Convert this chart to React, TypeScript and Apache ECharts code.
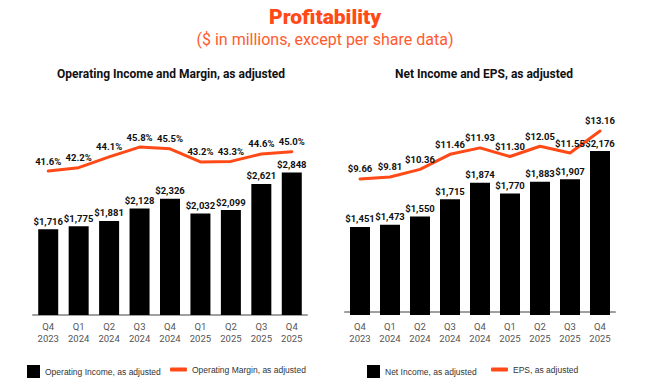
import React, { useEffect, useRef } from "react";
import * as echarts from "echarts";

const categories = ["Q4\n2023", "Q1\n2024", "Q2\n2024", "Q3\n2024", "Q4\n2024", "Q1\n2025", "Q2\n2025", "Q3\n2025", "Q4\n2025"];
const operatingIncome = [1716, 1775, 1881, 2128, 2326, 2032, 2099, 2621, 2848];
const operatingMargin = [41.6, 42.2, 44.1, 45.8, 45.5, 43.2, 43.3, 44.6, 45.0];
const netIncome = [1451, 1473, 1550, 1715, 1874, 1770, 1883, 1907, 2176];
const eps = [9.66, 9.81, 10.36, 11.46, 11.93, 11.3, 12.05, 11.55, 13.16];

const ORANGE = "#ff4a17";
const FONT = "Roboto, 'Noto Sans', sans-serif";

export default function App() {
  const ref = useRef<HTMLDivElement>(null);
  useEffect(() => {
    if (!ref.current) return;
    const chart = echarts.init(ref.current, undefined, { renderer: "svg" });
    const fmtMoney = (v: number) => "$" + v.toLocaleString("en-US");
    const barLabel = {
      show: true,
      position: "top",
      distance: 3,
      fontFamily: FONT,
      fontWeight: "bold",
      fontSize: 9.5,
      color: "#111",
    };
    const lineLabel = {
      show: true,
      position: "top",
      distance: 5,
      fontFamily: FONT,
      fontWeight: "bold",
      fontSize: 9.5,
      color: "#111",
    };
    const xAxisBase = {
      type: "category",
      data: categories,
      axisTick: { show: false },
      axisLine: { lineStyle: { color: "#a0a0a0", width: 2 } },
      axisLabel: { color: "#555", fontSize: 9.5, fontFamily: FONT, lineHeight: 12, margin: 5, interval: 0 },
    };
    const hiddenY = { type: "value", show: false, splitLine: { show: false } };
    const legendText = { fontFamily: "'Liberation Sans', Arial, sans-serif", fontSize: 8.5, color: "#333" };
    const legendBase = { padding: 0, top: 365, textStyle: legendText };
    chart.setOption({
      animation: false,
      backgroundColor: "#fff",
      graphic: [
        { type: "text", left: "center", top: 6, style: { text: "Profitability", fontFamily: FONT, fontWeight: 900, fontSize: 21, fill: ORANGE } },
        { type: "text", left: "center", top: 31, style: { text: "($ in millions, except per share data)", fontFamily: FONT, fontSize: 16, fill: "#ff5a2e" } },
        { type: "text", x: 171, y: 74, style: { text: "Operating Income and Margin, as adjusted", fontFamily: FONT, fontWeight: "bold", fontSize: 12, fill: "#111", align: "center", verticalAlign: "middle" } },
        { type: "text", x: 484, y: 74, style: { text: "Net Income and EPS, as adjusted", fontFamily: FONT, fontWeight: "bold", fontSize: 12, fill: "#111", align: "center", verticalAlign: "middle" } },
      ],
      legend: [
        { ...legendBase, left: 27, itemWidth: 13, itemHeight: 13, data: [{ name: "Operating Income, as adjusted", icon: "rect" }] },
        { ...legendBase, left: 170, itemWidth: 17, itemHeight: 4, data: [{ name: "Operating Margin, as adjusted", icon: "roundRect" }] },
        { ...legendBase, left: 367, itemWidth: 13, itemHeight: 13, data: [{ name: "Net Income, as adjusted", icon: "rect" }] },
        { ...legendBase, left: 491, itemWidth: 17, itemHeight: 4, data: [{ name: "EPS, as adjusted", icon: "roundRect" }] },
      ],
      grid: [
        { left: 33, right: 343, top: 100, bottom: 75 },
        { left: 345, right: 35, top: 100, bottom: 75 },
      ],
      xAxis: [
        { ...xAxisBase, gridIndex: 0 },
        { ...xAxisBase, gridIndex: 1 },
      ],
      yAxis: [
        { ...hiddenY, gridIndex: 0, min: 0, max: 4300 },
        { ...hiddenY, gridIndex: 0, min: 16.4, max: 54.05 },
        { ...hiddenY, gridIndex: 1, min: 611, max: 2663 },
        { ...hiddenY, gridIndex: 1, min: -0.26, max: 15.42 },
      ],
      series: [
        {
          name: "Operating Income, as adjusted",
          type: "bar",
          xAxisIndex: 0,
          yAxisIndex: 0,
          data: operatingIncome,
          barWidth: 20,
          itemStyle: { color: "#000" },
          label: { ...barLabel, formatter: (p: any) => fmtMoney(p.value) },
        },
        {
          name: "Operating Margin, as adjusted",
          type: "line",
          xAxisIndex: 0,
          yAxisIndex: 1,
          data: operatingMargin,
          symbol: "circle",
          symbolSize: 0,
          itemStyle: { color: ORANGE },
          lineStyle: { color: ORANGE, width: 3, cap: "round", join: "round" },
          label: { ...lineLabel, formatter: (p: any) => p.value.toFixed(1) + "%" },
        },
        {
          name: "Net Income, as adjusted",
          type: "bar",
          xAxisIndex: 1,
          yAxisIndex: 2,
          data: netIncome,
          barWidth: 20,
          itemStyle: { color: "#000" },
          label: { ...barLabel, formatter: (p: any) => fmtMoney(p.value) },
        },
        {
          name: "EPS, as adjusted",
          type: "line",
          xAxisIndex: 1,
          yAxisIndex: 3,
          data: eps,
          symbol: "circle",
          symbolSize: 0,
          itemStyle: { color: ORANGE },
          lineStyle: { color: ORANGE, width: 3, cap: "round", join: "round" },
          label: { ...lineLabel, formatter: (p: any) => "$" + p.value.toFixed(2) },
        },
      ],
    });
    return () => chart.dispose();
  }, []);
  return <div ref={ref} style={{ width: 650, height: 390, position: "absolute", left: 0, top: 0 }} />;
}
